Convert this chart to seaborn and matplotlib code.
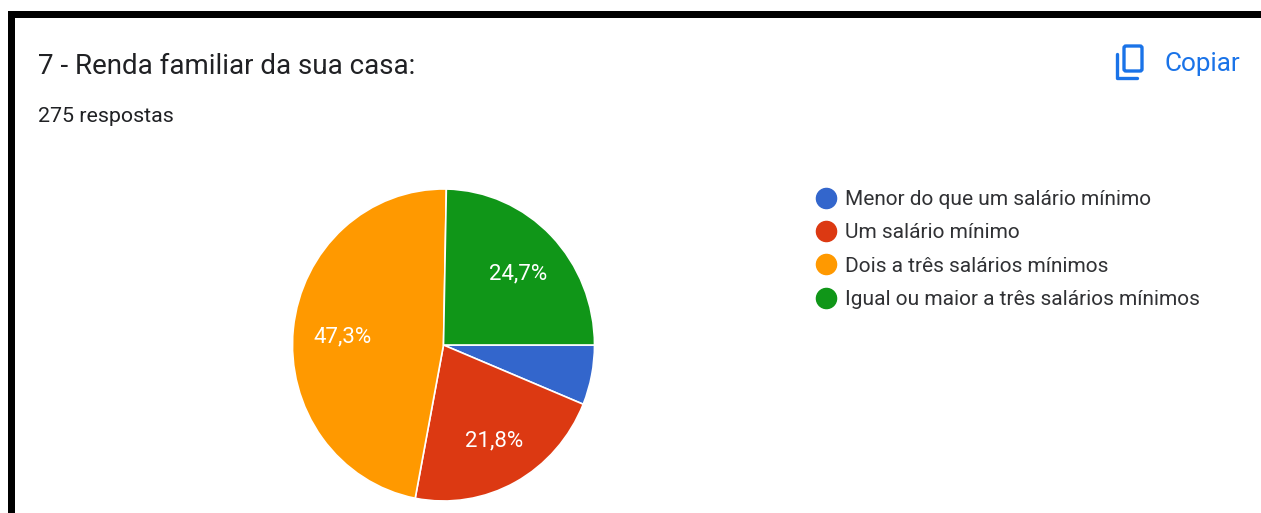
import matplotlib
matplotlib.use("Agg")
import matplotlib.pyplot as plt
from matplotlib.lines import Line2D
from matplotlib.patches import Rectangle, FancyBboxPatch
import seaborn as sns

categories = ["Menor do que um salário mínimo", "Um salário mínimo",
              "Dois a três salários mínimos", "Igual ou maior a três salários mínimos"]
shares = [6.2, 21.8, 47.3, 24.7]
colors = ["#3366cc", "#dc3912", "#ff9900", "#109618"]
title = "7 - Renda familiar da sua casa:"
subtitle = "275 respostas"
W, H = 1261, 513

sns.set_theme(style="white")
plt.rcParams["font.family"] = ["Roboto", "DejaVu Sans"]
palette = sns.color_palette(colors)

fig = plt.figure(figsize=(W / 100, H / 100), dpi=100, facecolor="white")

# page layer in pixel coords
bg = fig.add_axes([0, 0, 1, 1])
bg.set_xlim(0, W)
bg.set_ylim(H, 0)
bg.axis("off")

# black frame of the screenshot
bg.add_patch(Rectangle((8, 11), W, 6.5, color="black", lw=0))
bg.add_patch(Rectangle((8, 11), 6.5, H, color="black", lw=0))

bg.text(38, 67, title, fontsize=20, color="#202124", va="center", ha="left")
bg.text(38, 116, subtitle, fontsize=15.4, color="#202124", va="center", ha="left")
bg.text(1164, 64, "Copiar", fontsize=18.8, color="#1a73e8", va="center", ha="left")

# copy icon
bg.add_patch(FancyBboxPatch((1124, 46), 18, 25, boxstyle="round,pad=0,rounding_size=2",
                            fill=False, ec="#1a73e8", lw=2.4))
bg.plot([1117, 1117, 1137], [54, 78, 78], color="#1a73e8", lw=2.4, solid_capstyle="round")

# pie
cx, cy, rx, ry = 443.5, 345, 151, 156
ax = fig.add_axes([(cx - rx) / W, 1 - (cy + ry) / H, 2 * rx / W, 2 * ry / H])
wedges, texts, autotexts = ax.pie(
    shares, colors=palette, startangle=0, counterclock=False, radius=1,
    pctdistance=0.68, autopct=lambda p: f"{p:.1f}%".replace(".", ",") if p > 10 else "",
    wedgeprops={"edgecolor": "white", "linewidth": 1.2},
    textprops={"color": "white", "fontsize": 16},
)
for t in autotexts:
    x, y = t.get_position()
    t.set_position((x + 0.01, y - 0.02))
ax.set_aspect("auto")
ax.set_xlim(-1, 1)
ax.set_ylim(-1, 1)

# legend
handles = [Line2D([], [], marker="o", ls="", ms=14.5, mfc=c, mec=c) for c in palette]
leg = bg.legend(handles, categories, loc="upper left", bbox_to_anchor=(805 / W, 1 - 190 / H),
                bbox_transform=fig.transFigure, frameon=False, fontsize=15, labelcolor="#303134",
                labelspacing=0.69, handletextpad=-0.08, borderpad=0, borderaxespad=0)

fig.savefig("out.png", dpi=100)
